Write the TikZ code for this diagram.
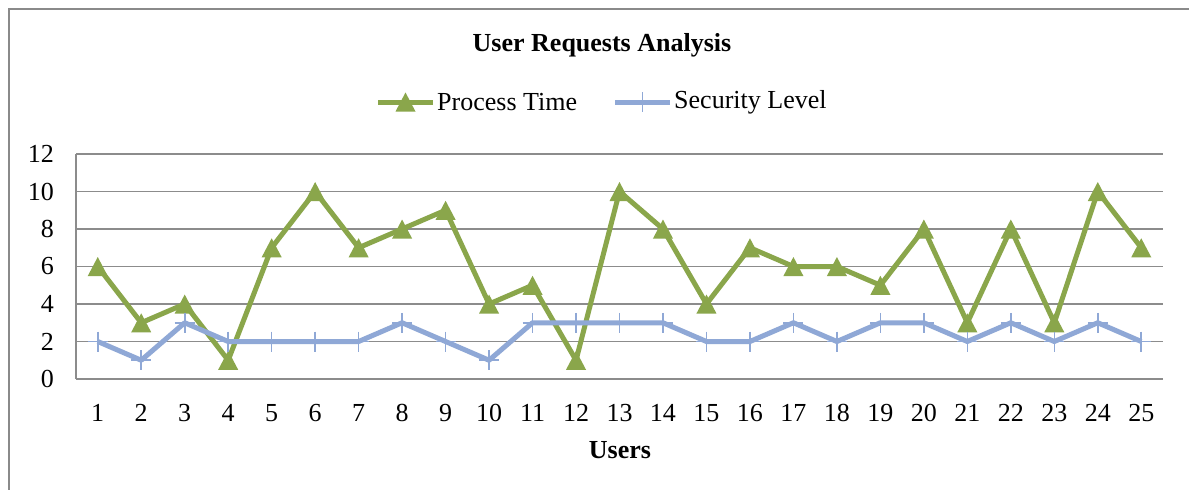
\documentclass[tikz,border=0pt]{standalone}
\usepackage{fontspec}
\setmainfont{Liberation Serif}
\definecolor{ptgreen}{HTML}{8AA64B}
\definecolor{slblue}{HTML}{8FA8D6}
\definecolor{gridgray}{HTML}{8C8C8C}
\definecolor{framegray}{HTML}{8A8A8A}
\tikzset{
  gridline/.style={draw=gridgray, line width=1.8pt},
  ptline/.style={draw=ptgreen, line width=5pt, line join=round},
  slline/.style={draw=slblue, line width=5pt, line join=round},
  plusmark/.style={draw=slblue, line width=1.6pt},
  lbl/.style={font=\fontsize{26}{30}\selectfont, inner sep=0pt},
  boldlbl/.style={font=\fontsize{26}{30}\selectfont\bfseries, inner sep=0pt}
}
\begin{document}
\begin{tikzpicture}[x=1pt,y=-1pt]
\useasboundingbox (0,0) rectangle (1189,490);
\fill[white] (0,0) rectangle (1189,490);
% chart frame
\draw[framegray, line width=1.8pt] (9,492) -- (9,9) -- (1192,9);
% title
\node[boldlbl] (title) at (602,45) {User Requests Analysis};
% gridlines and y labels
\foreach \v in {0,2,...,12}{
  \draw[gridline] (76,{379-18.75*\v}) -- (1163,{379-18.75*\v});
  \node[lbl, anchor=east] (yl\v) at (54,{379-18.75*\v}) {\v};
}
\draw[gridline] (76,154) -- (76,379);
% x labels
\foreach \i in {1,...,25}{
  \node[lbl] (xl\i) at ({76+(\i-0.5)*43.48},413) {\i};
}
\node[boldlbl] (xtitle) at (620,450) {Users};
% data points
\foreach \v [count=\i] in {6,3,4,1,7,10,7,8,9,4,5,1,10,8,4,7,6,6,5,8,3,8,3,10,7}{
  \coordinate (p\i) at ({76+(\i-0.5)*43.48},{379-18.75*\v});
}
\foreach \v [count=\i] in {2,1,3,2,2,2,2,3,2,1,3,3,3,3,2,2,3,2,3,3,2,3,2,3,2}{
  \coordinate (s\i) at ({76+(\i-0.5)*43.48},{379-18.75*\v});
}
% process time series
\draw[ptline] (p1) \foreach \i in {2,...,25}{ -- (p\i)};
\foreach \i in {1,...,25}{
  \fill[ptgreen, shift={(p\i)}] (0,-9.5) -- (-10,9.5) -- (10,9.5) -- cycle;
}
% security level series
\draw[slline] (s1) \foreach \i in {2,...,25}{ -- (s\i)};
\foreach \i in {1,...,25}{
  \draw[plusmark, shift={(s\i)}] (0,-10) -- (0,10) (-10,0) -- (10,0);
}
% legend
\coordinate (lg1a) at (378,102);
\coordinate (lg1b) at (433,102);
\coordinate (lg1m) at (405.5,102);
\draw[ptline] (lg1a) -- (lg1b);
\fill[ptgreen, shift={(lg1m)}] (0,-9.5) -- (-10,9.5) -- (10,9.5) -- cycle;
\node[lbl, anchor=west] (lg1t) at (437,102) {Process Time};
\coordinate (lg2a) at (615,102);
\coordinate (lg2b) at (670,102);
\coordinate (lg2m) at (642.5,102);
\draw[slline] (lg2a) -- (lg2b);
\draw[plusmark, shift={(lg2m)}] (0,-10) -- (0,10) (-10,0) -- (10,0);
\node[lbl, anchor=west] (lg2t) at (674,102) {Security Level};
\end{tikzpicture}
\end{document}
